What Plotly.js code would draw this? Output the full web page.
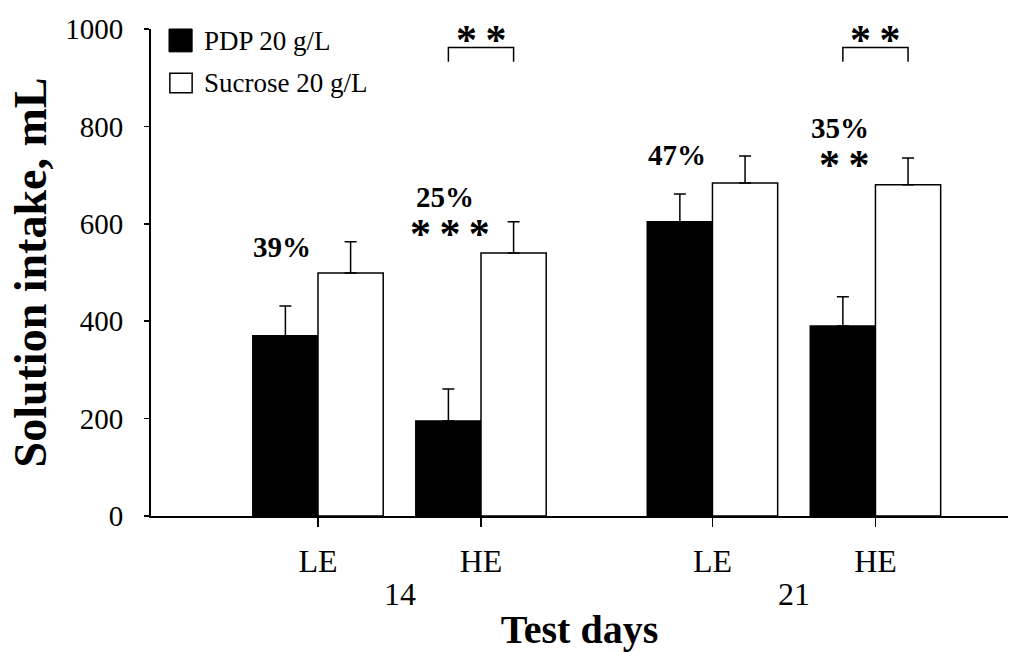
<!DOCTYPE html>
<html>
<head>
<meta charset="utf-8">
<script src="https://cdn.plot.ly/plotly-3.0.1.min.js"></script>
<style>
  html, body { margin: 0; padding: 0; background: #fff; }
  #chart { width: 1025px; height: 652px; }
</style>
</head>
<body>
<div id="chart"></div>
<script>
// ---- data ----
const days = ['14', '14', '21', '21'];
const groups = ['LE', 'HE', 'LE', 'HE'];
const pdpIntake = [370, 195, 604, 390];
const pdpErr = [61, 66, 57, 60];
const sucroseIntake = [499, 540, 684, 680];
const sucroseErr = [64, 64, 55, 55];
const percentLabels = ['39%', '25%', '47%', '35%'];
const pdpStars = ['', '***', '', '**'];
const pairStars = ['', '**', '', '**'];
const dayLabels = ['14', '21'];
const yTicks = [0, 200, 400, 600, 800, 1000];
const seriesNames = ['PDP 20 g/L', 'Sucrose 20 g/L'];

// ---- layout helpers ----
const FONT = '"Liberation Serif", "Times New Roman", Times, serif';
const DAY_GAP = 0.42;
const dayOrder = [...new Set(days)];
const pos = days.map((d, i) => i + 1 + dayOrder.indexOf(d) * DAY_GAP);
const zeros = pdpErr.map(() => 0);
const starText = t => '<b>' + t.split('').join('\u2009') + '</b>';

const traces = [
  {
    type: 'bar', name: seriesNames[0], x: pos, y: pdpIntake,
    marker: { color: '#000000', line: { color: '#000000', width: 1.5 } },
    error_y: { type: 'data', symmetric: false, array: pdpErr, arrayminus: zeros,
               color: '#000000', thickness: 1.5, width: 6 },
    showlegend: false, hoverinfo: 'y'
  },
  {
    type: 'bar', name: seriesNames[1], x: pos, y: sucroseIntake,
    marker: { color: '#ffffff', line: { color: '#000000', width: 1.5 } },
    error_y: { type: 'data', symmetric: false, array: sucroseErr, arrayminus: zeros,
               color: '#000000', thickness: 1.5, width: 6 },
    showlegend: false, hoverinfo: 'y'
  }
];

const annotations = [];
const shapes = [];
const pctY = [552, 655, 741, 797];
percentLabels.forEach((t, i) => {
  annotations.push({ x: pos[i] - 0.22, y: pctY[i], xref: 'x', yref: 'y', text: '<b>' + t + '</b>',
    showarrow: false, font: { family: FONT, size: 29, color: '#000' }, xanchor: 'center', yanchor: 'middle' });
});
const starY = [0, 580, 0, 721];
pdpStars.forEach((t, i) => {
  if (!t) return;
  annotations.push({ x: pos[i] - 0.19, y: starY[i], xref: 'x', yref: 'y', text: starText(t),
    showarrow: false, font: { family: FONT, size: 42, color: '#000' }, xanchor: 'center', yanchor: 'middle' });
});
pairStars.forEach((t, i) => {
  if (!t) return;
  const x0 = pos[i] - 0.2, x1 = pos[i] + 0.2;
  shapes.push({ type: 'path', xref: 'x', yref: 'y',
    path: `M ${x0},933 L ${x0},962 L ${x1},962 L ${x1},933`,
    line: { color: '#000', width: 1.5 } });
  annotations.push({ x: pos[i], y: 977, xref: 'x', yref: 'y', text: starText(t),
    showarrow: false, font: { family: FONT, size: 42, color: '#000' }, xanchor: 'center', yanchor: 'middle' });
});
// day labels under the LE/HE pairs
dayOrder.forEach((d, k) => {
  const idx = days.map((v, i) => v === d ? i : -1).filter(i => i >= 0);
  const cx = idx.reduce((s, i) => s + pos[i], 0) / idx.length;
  annotations.push({ x: cx, y: -0.16, xref: 'x', yref: 'paper', text: dayLabels[k],
    showarrow: false, font: { family: FONT, size: 32, color: '#000' }, xanchor: 'center', yanchor: 'middle' });
});
// legend (drawn manually for large swatches)
shapes.push({ type: 'rect', xref: 'paper', yref: 'paper', x0: 0.021, x1: 0.048, y0: 0.953, y1: 1.0,
  fillcolor: '#000', line: { color: '#000', width: 1 } });
shapes.push({ type: 'rect', xref: 'paper', yref: 'paper', x0: 0.022, x1: 0.048, y0: 0.869, y1: 0.909,
  fillcolor: '#fff', line: { color: '#000', width: 1.5 } });
annotations.push({ x: 0.0595, y: 0.975, xref: 'paper', yref: 'paper', text: seriesNames[0], showarrow: false,
  font: { family: FONT, size: 27, color: '#000' }, xanchor: 'left', yanchor: 'middle' });
annotations.push({ x: 0.0595, y: 0.889, xref: 'paper', yref: 'paper', text: seriesNames[1], showarrow: false,
  font: { family: FONT, size: 27, color: '#000' }, xanchor: 'left', yanchor: 'middle' });

const layout = {
  width: 1025, height: 652,
  margin: { l: 151, r: 17, t: 29, b: 136, pad: 0 },
  paper_bgcolor: '#ffffff', plot_bgcolor: '#ffffff',
  barmode: 'group', bargap: 0.2, bargroupgap: 0,
  font: { family: FONT, color: '#000' },
  xaxis: {
    range: [1 + (151 - 318) / 163, 1 + (1008 - 318) / 163],
    tickmode: 'array', tickvals: pos, ticktext: groups,
    showline: true, linecolor: '#000', linewidth: 2,
    ticks: 'outside', ticklen: 9, tickwidth: 1.5, tickcolor: '#000',
    ticklabelstandoff: 7,
    tickfont: { family: FONT, size: 32, color: '#000' },
    showgrid: false, zeroline: false, fixedrange: true,
    title: { text: '<b>Test days</b>', font: { family: FONT, size: 40, color: '#000' }, standoff: 60 }
  },
  yaxis: {
    range: [0, 1000],
    tickmode: 'array', tickvals: yTicks, ticktext: yTicks.map(String),
    showline: true, linecolor: '#000', linewidth: 2,
    ticks: 'outside', ticklen: 5, tickwidth: 1.5, tickcolor: '#000',
    ticklabelstandoff: 15,
    tickfont: { family: FONT, size: 29, color: '#000' },
    showgrid: false, zeroline: false, fixedrange: true,
    title: { text: '<b>Solution intake, mL</b>', font: { family: FONT, size: 46, color: '#000' }, standoff: 4 }
  },
  annotations: annotations,
  shapes: shapes,
  showlegend: false
};

Plotly.newPlot('chart', traces, layout, { displayModeBar: false, staticPlot: true });
</script>
</body>
</html>
